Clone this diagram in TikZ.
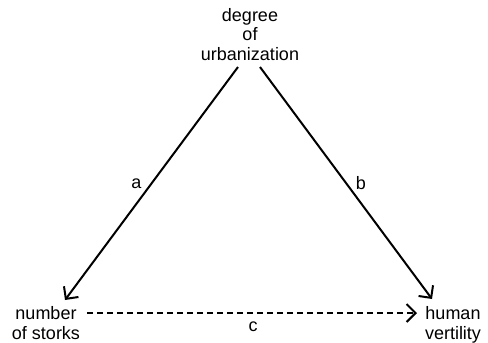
\documentclass[tikz,border=0pt]{standalone}
\usepackage{fontspec}
\setmainfont{Liberation Sans}
\usetikzlibrary{arrows.meta}
\begin{document}
\begin{tikzpicture}[x=1pt,y=-1pt,
  lbl/.style={inner sep=0pt,outer sep=0pt,align=center,font=\fontsize{18}{19.5}\selectfont},
  conn/.style={line width=2pt,-{Straight Barb[length=9pt,width=18pt,line width=2pt]}},
  dconn/.style={conn,dash pattern=on 6pt off 4pt}]
\useasboundingbox (0,0) rectangle (488,343);
\node[lbl,anchor=base] (urb) at (250,60) {degree\\of\\urbanization};
\node[lbl,anchor=base] (storks) at (46,339) {number\\of storks};
\node[lbl,anchor=base] (human) at (453,339) {human\\vertility};
\coordinate (urbL) at (238,67);
\coordinate (urbR) at (260,67);
\coordinate (storksT) at (65,300);
\coordinate (storksR) at (87,313);
\coordinate (humanT) at (432,299);
\coordinate (humanL) at (417,313);
\draw[conn] (urbL) -- (storksT) node[pos=0.5,lbl,anchor=center,xshift=-15pt] (a) {a};
\draw[conn] (urbR) -- (humanT) node[pos=0.5,lbl,anchor=center,xshift=15pt] (b) {b};
\draw[dconn] (storksR) -- (humanL);
\node[lbl] (c) at (253,327) {c};
\end{tikzpicture}
\end{document}
